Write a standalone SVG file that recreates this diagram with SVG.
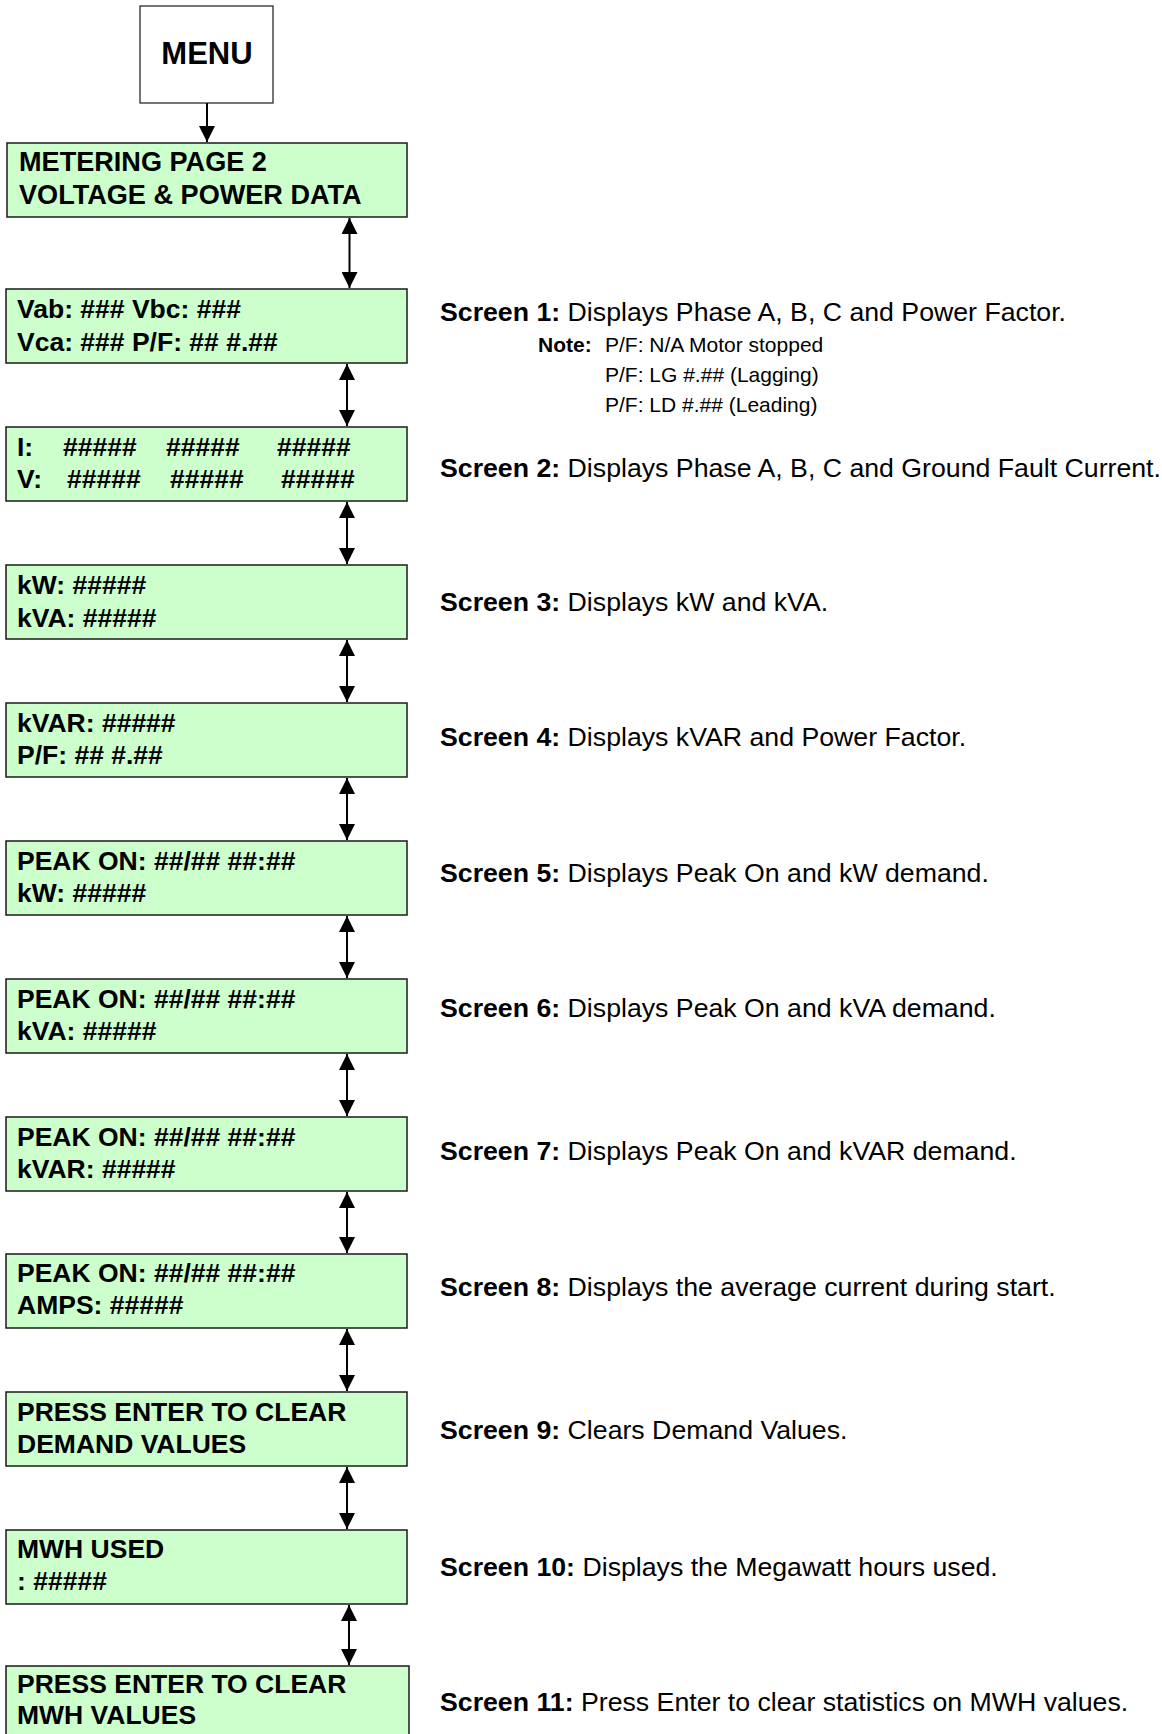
<svg xmlns="http://www.w3.org/2000/svg" width="1162" height="1734" viewBox="0 0 1162 1734">
<style>
  .box { fill: #CCFFCC; stroke: #1a1a1a; stroke-width: 1.5; }
  .menu { fill: #ffffff; stroke: #1a1a1a; stroke-width: 1.2; }
  .bt { font-family: "Liberation Sans", Arial, sans-serif; font-weight: bold; font-size: 26.5px; fill: #000; }
  .st { font-family: "Liberation Sans", Arial, sans-serif; font-size: 26.7px; fill: #000; }
  .nt { font-family: "Liberation Sans", Arial, sans-serif; font-size: 21px; fill: #000; }
  .b { font-weight: bold; }
  .conn { stroke: #000; stroke-width: 2; fill: none; }
</style>
<defs>
  <marker id="ah" markerUnits="userSpaceOnUse" markerWidth="16" markerHeight="16" refX="16" refY="8" orient="auto-start-reverse">
    <path d="M0,0 L16,8 L0,16 z" fill="#000"/>
  </marker>
</defs>
<rect width="1162" height="1734" fill="#ffffff"/>

<g id="menu">
  <rect class="menu" x="140" y="6" width="133" height="97"/>
  <text x="207" y="64" text-anchor="middle" font-family="Liberation Sans, Arial, sans-serif" font-weight="bold" font-size="31px">MENU</text>
</g>

<g id="metering">
  <rect class="box" x="7" y="143" width="400" height="74"/>
  <text class="bt" x="19" y="171" style="font-size:27.1px">METERING PAGE 2</text>
  <text class="bt" x="19" y="204" style="font-size:27.1px">VOLTAGE &amp; POWER DATA</text>
</g>

<g id="screen1">
  <rect class="box" x="6" y="289" width="401" height="74"/>
  <text class="bt" x="17" y="318">Vab: ### Vbc: ###</text>
  <text class="bt" x="17" y="351">Vca: ### P/F: ## #.##</text>
</g>
<g id="screen2">
  <rect class="box" x="6" y="427" width="401" height="74"/>
  <text class="bt" y="456"><tspan x="17">I:</tspan><tspan x="63">#####</tspan><tspan x="166">#####</tspan><tspan x="277">#####</tspan></text>
  <text class="bt" y="488"><tspan x="17">V:</tspan><tspan x="67">#####</tspan><tspan x="170">#####</tspan><tspan x="281">#####</tspan></text>
</g>
<g id="screen3">
  <rect class="box" x="6" y="565" width="401" height="74"/>
  <text class="bt" x="17" y="594">kW: #####</text>
  <text class="bt" x="17" y="627">kVA: #####</text>
</g>
<g id="screen4">
  <rect class="box" x="6" y="703" width="401" height="74"/>
  <text class="bt" x="17" y="732">kVAR: #####</text>
  <text class="bt" x="17" y="764">P/F: ## #.##</text>
</g>
<g id="screen5">
  <rect class="box" x="6" y="841" width="401" height="74"/>
  <text class="bt" x="17" y="870">PEAK ON: ##/## ##:##</text>
  <text class="bt" x="17" y="902">kW: #####</text>
</g>
<g id="screen6">
  <rect class="box" x="6" y="979" width="401" height="74"/>
  <text class="bt" x="17" y="1008">PEAK ON: ##/## ##:##</text>
  <text class="bt" x="17" y="1040">kVA: #####</text>
</g>
<g id="screen7">
  <rect class="box" x="6" y="1117" width="401" height="74"/>
  <text class="bt" x="17" y="1146">PEAK ON: ##/## ##:##</text>
  <text class="bt" x="17" y="1178">kVAR: #####</text>
</g>
<g id="screen8">
  <rect class="box" x="6" y="1254" width="401" height="74"/>
  <text class="bt" x="17" y="1282">PEAK ON: ##/## ##:##</text>
  <text class="bt" x="17" y="1314">AMPS: #####</text>
</g>
<g id="screen9">
  <rect class="box" x="6" y="1392" width="401" height="74"/>
  <text class="bt" x="17" y="1421">PRESS ENTER TO CLEAR</text>
  <text class="bt" x="17" y="1453">DEMAND VALUES</text>
</g>
<g id="screen10">
  <rect class="box" x="6" y="1530" width="401" height="74"/>
  <text class="bt" x="17" y="1558">MWH USED</text>
  <text class="bt" x="17" y="1590">: #####</text>
</g>
<g id="screen11">
  <rect class="box" x="6" y="1666" width="403" height="80"/>
  <text class="bt" x="17" y="1693">PRESS ENTER TO CLEAR</text>
  <text class="bt" x="17" y="1724">MWH VALUES</text>
</g>

<g id="descriptions">
  <text class="st" x="440" y="321"><tspan class="b">Screen 1:</tspan> Displays Phase A, B, C and Power Factor.</text>
  <text class="nt" x="538" y="352"><tspan class="b">Note:</tspan></text>
  <text class="nt" x="605" y="352">P/F: N/A Motor stopped</text>
  <text class="nt" x="605" y="382">P/F: LG #.## (Lagging)</text>
  <text class="nt" x="605" y="412">P/F: LD #.## (Leading)</text>
  <text class="st" x="440" y="477"><tspan class="b">Screen 2:</tspan> Displays Phase A, B, C and Ground Fault Current.</text>
  <text class="st" x="440" y="611"><tspan class="b">Screen 3:</tspan> Displays kW and kVA.</text>
  <text class="st" x="440" y="746"><tspan class="b">Screen 4:</tspan> Displays kVAR and Power Factor.</text>
  <text class="st" x="440" y="882"><tspan class="b">Screen 5:</tspan> Displays Peak On and kW demand.</text>
  <text class="st" x="440" y="1017"><tspan class="b">Screen 6:</tspan> Displays Peak On and kVA demand.</text>
  <text class="st" x="440" y="1160"><tspan class="b">Screen 7:</tspan> Displays Peak On and kVAR demand.</text>
  <text class="st" x="440" y="1296"><tspan class="b">Screen 8:</tspan> Displays the average current during start.</text>
  <text class="st" x="440" y="1439"><tspan class="b">Screen 9:</tspan> Clears Demand Values.</text>
  <text class="st" x="440" y="1576"><tspan class="b">Screen 10:</tspan> Displays the Megawatt hours used.</text>
  <text class="st" x="440" y="1711"><tspan class="b">Screen 11:</tspan> Press Enter to clear statistics on MWH values.</text>
</g>

<g id="connectors">
  <line class="conn" x1="207" y1="103" x2="207" y2="142" marker-end="url(#ah)"/>
  <line class="conn" x1="349.5" y1="218" x2="349.5" y2="288" marker-start="url(#ah)" marker-end="url(#ah)"/>
  <line class="conn" x1="347" y1="364" x2="347" y2="426" marker-start="url(#ah)" marker-end="url(#ah)"/>
  <line class="conn" x1="347" y1="502" x2="347" y2="564" marker-start="url(#ah)" marker-end="url(#ah)"/>
  <line class="conn" x1="347" y1="640" x2="347" y2="702" marker-start="url(#ah)" marker-end="url(#ah)"/>
  <line class="conn" x1="347" y1="778" x2="347" y2="840" marker-start="url(#ah)" marker-end="url(#ah)"/>
  <line class="conn" x1="347" y1="916" x2="347" y2="978" marker-start="url(#ah)" marker-end="url(#ah)"/>
  <line class="conn" x1="347" y1="1054" x2="347" y2="1116" marker-start="url(#ah)" marker-end="url(#ah)"/>
  <line class="conn" x1="347" y1="1192" x2="347" y2="1253" marker-start="url(#ah)" marker-end="url(#ah)"/>
  <line class="conn" x1="347" y1="1329" x2="347" y2="1391" marker-start="url(#ah)" marker-end="url(#ah)"/>
  <line class="conn" x1="347" y1="1467" x2="347" y2="1529" marker-start="url(#ah)" marker-end="url(#ah)"/>
  <line class="conn" x1="349" y1="1605" x2="349" y2="1665" marker-start="url(#ah)" marker-end="url(#ah)"/>
</g>
</svg>
